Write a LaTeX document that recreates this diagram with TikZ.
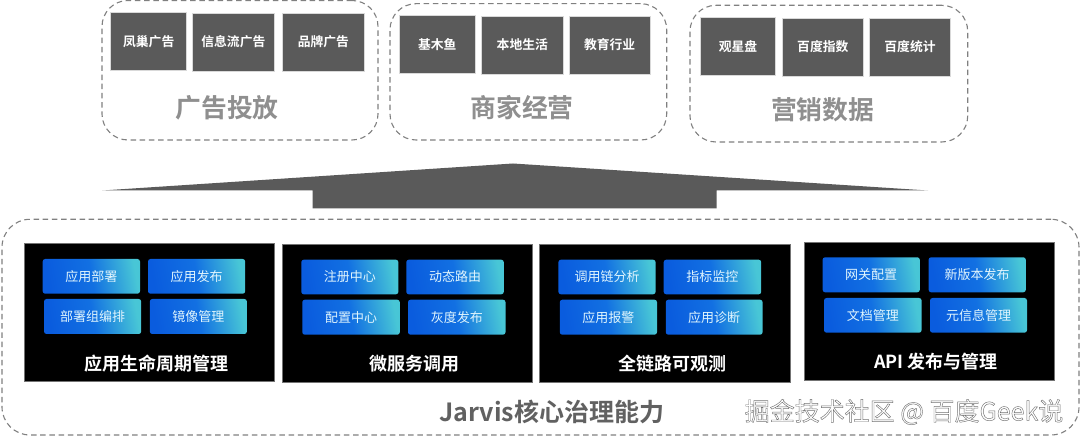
\documentclass[tikz,border=0pt]{standalone}
\usepackage{fontspec}
\setmainfont{Noto Sans CJK SC}[BoldFont={Noto Sans CJK SC Bold}]
\usetikzlibrary{calc}
\definecolor{btnA}{HTML}{0A5CDE}
\definecolor{btnB}{HTML}{1270E2}
\definecolor{btnC}{HTML}{48C6D6}
\definecolor{darkbox}{HTML}{5A5A5A}
\definecolor{dashgray}{HTML}{808080}
\definecolor{titlegray}{HTML}{8F8F8F}
\pgfdeclarehorizontalshading{btnshade}{100bp}{color(0bp)=(btnA);color(25bp)=(btnA);color(50bp)=(btnB);color(75bp)=(btnC);color(100bp)=(btnC)}
\tikzset{
  dashframe/.style={draw=dashgray,line width=1.1pt,dash pattern=on 5.5pt off 3.7pt,rounded corners=26pt,fill=none},
  graybox/.style={draw=black!15,line width=.5pt,fill=darkbox,text=white,font=\fontsize{12.8}{14}\selectfont\bfseries},
  panel/.style={draw=black!55,line width=.6pt,fill=black},
  btn/.style={rounded corners=2.5pt,shading=btnshade,shading angle=10,text=white!88!cyan,font=\fontsize{13}{15}\selectfont},
  grouptitle/.style={text=titlegray,font=\fontsize{25.8}{28}\selectfont\bfseries},
  paneltitle/.style={text=white,font=\fontsize{18}{20}\selectfont\bfseries},
  every node/.append style={inner sep=0pt,outer sep=0pt}
}
\newcommand{\bx}[7]{%
  \pgfmathsetmacro{\bxw}{#5-#3}\pgfmathsetmacro{\bxh}{#6-#4}%
  \pgfmathsetmacro{\bxx}{(#3+#5)/2}\pgfmathsetmacro{\bxy}{(#4+#6)/2}%
  \node[#1,minimum width=\bxw pt,minimum height=\bxh pt] (#2) at (\bxx,\bxy) {#7};}
\begin{document}
\begin{tikzpicture}[x=1pt,y=-1pt]
\useasboundingbox (0,0) rectangle (1080,443);
\fill[white] (0,0) rectangle (1080,443);
% upper frames
\bx{dashframe}{fa}{102}{0.5}{378}{140}{}
\bx{dashframe}{fb}{390}{3.7}{666.7}{140}{}
\bx{dashframe}{fc}{690}{5.3}{967.7}{142}{}
\bx{graybox}{a1}{110.7}{12.7}{186.7}{70}{凤巢广告}
\bx{graybox}{a2}{192.7}{13}{274}{71}{信息流广告}
\bx{graybox}{a3}{282.7}{13}{364}{71}{品牌广告}
\bx{graybox}{b1}{399.3}{15.3}{475.3}{73}{基木鱼}
\bx{graybox}{b2}{481.3}{16}{563.3}{74}{本地生活}
\bx{graybox}{b3}{569}{16}{650.3}{74}{教育行业}
\bx{graybox}{c1}{700.3}{17.5}{775.7}{75}{观星盘}
\bx{graybox}{c2}{782.3}{18}{863.3}{76}{百度指数}
\bx{graybox}{c3}{869.3}{18}{950.7}{76}{百度统计}
\node[grouptitle] (ta) at (227,108) {广告投放};
\node[grouptitle] (tb) at (522,108) {商家经营};
\node[grouptitle] (tc) at (822.7,110) {营销数据};
% big arrow
\fill[darkbox] (102,190.5) -- (513,163.5) -- (928,190.5) -- (716.7,190.5) -- (716.7,208.5) -- (312.7,208.5) -- (312.7,190.5) -- cycle;
% lower frame
\bx{dashframe,rounded corners=28pt}{fd}{2}{219.3}{1079}{435}{}
\bx{panel}{p1}{23.8}{243.3}{273.8}{381.7}{}
\bx{panel}{p2}{282.4}{244}{532}{382}{}
\bx{panel}{p3}{539.5}{244}{790}{382}{}
\bx{panel}{p4}{804}{242.3}{1054.2}{380.3}{}
\bx{btn}{s11}{42.7}{259}{140}{293.7}{应用部署}
\bx{btn}{s12}{148}{259}{245.2}{293.7}{应用发布}
\bx{btn}{s13}{44}{299}{141.2}{334}{部署组编排}
\bx{btn}{s14}{149.8}{299}{246.9}{334}{镜像管理}
\bx{btn}{s21}{301.3}{259.7}{398.4}{294.3}{注册中心}
\bx{btn}{s22}{406.3}{259.7}{503.8}{294.3}{动态路由}
\bx{btn}{s23}{302.3}{299.7}{399.8}{334.7}{配置中心}
\bx{btn}{s24}{408}{299.7}{505.5}{334.7}{灰度发布}
\bx{btn}{s31}{558.4}{259.7}{655.6}{294.3}{调用链分析}
\bx{btn}{s32}{663.7}{259.7}{761.2}{294.3}{指标监控}
\bx{btn}{s33}{559.8}{299.7}{657}{334.7}{应用报警}
\bx{btn}{s34}{665.8}{299.7}{762.6}{334.7}{应用诊断}
\bx{btn}{s41}{822.6}{257.3}{919.8}{292.3}{网关配置}
\bx{btn}{s42}{928.6}{257.3}{1025.8}{292.3}{新版本发布}
\bx{btn}{s43}{824}{298}{921.6}{332.7}{文档管理}
\bx{btn}{s44}{930}{298}{1027}{332.7}{元信息管理}
\node[paneltitle] (t1) at (156.7,363.3) {应用生命周期管理};
\node[paneltitle] (t2) at (414.6,363.3) {微服务调用};
\node[paneltitle] (t3) at (672,364) {全链路可观测};
\node[paneltitle] (t4) at (936,361.7) {API 发布与管理};
\node[text=black!62,font=\fontsize{25}{28}\selectfont\bfseries] (core) at (552,412) {Jarvis核心治理能力};
\node[font=\fontsize{25}{28}\selectfont,text=white] (mark) at (904,412) {\special{pdf:code 2 Tr 0.45 w 0.45 0.45 0.45 RG}掘金技术社区 @ 百度Geek说\special{pdf:code 0 Tr}};
\end{tikzpicture}
\end{document}
